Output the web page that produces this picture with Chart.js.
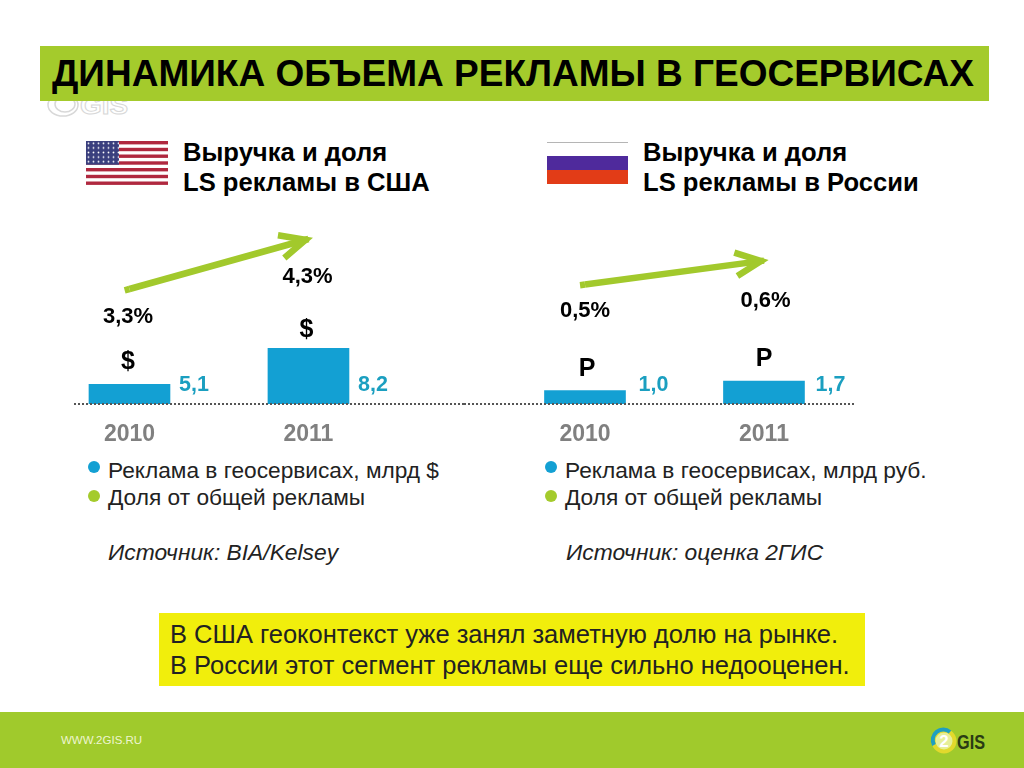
<!DOCTYPE html>
<html lang="ru">
<head>
<meta charset="utf-8">
<title>Динамика объема рекламы в геосервисах</title>
<script src="https://cdn.jsdelivr.net/npm/chart.js@4"></script>
<style>
html, body { margin: 0; padding: 0; background: #fff; }
body { width: 1024px; height: 768px; overflow: hidden; position: relative; font-family: "Liberation Sans", Arial, sans-serif; color: #000; }
.abs { position: absolute; white-space: nowrap; }
#titleBar { left: 40px; top: 46px; width: 949px; height: 55px; background: #a4cb2c; }
#title { left: 52px; top: 52px; font-size: 37px; line-height: 44px; font-weight: bold; }
.head { font-size: 25.6px; line-height: 30px; font-weight: bold; }
.legend { font-size: 22.7px; line-height: 24px; color: #222; }
.dot { width: 12px; height: 12px; border-radius: 50%; }
.source { font-size: 22.8px; line-height: 24px; font-style: italic; color: #222; }
#note { left: 159px; top: 613px; width: 692px; padding-left: 11px; padding-right: 3px; background: #f1ee0c; font-size: 25.5px; line-height: 31px; padding-top: 6px; height: 67px; color: #222; }
#footer { left: 0; top: 712px; width: 1024px; height: 56px; background: #a0ca2c; }
#site { left: 61px; top: 733px; font-size: 11.5px; line-height: 14px; color: #eef5d0; }
canvas { position: absolute; display: block; }
</style>
</head>
<body>
<svg class="abs" style="left:44px;top:94px" width="90" height="26">
  <g fill="none" stroke="#d8d8d8" stroke-width="1.5">
    <ellipse cx="19" cy="11" rx="15" ry="11"></ellipse>
    <ellipse cx="21" cy="10" rx="10" ry="8"></ellipse>
  </g>
  <text x="36" y="20" font-family="Liberation Sans" font-size="24" font-weight="bold" fill="#fff" stroke="#d8d8d8" stroke-width="1" textLength="48" lengthAdjust="spacingAndGlyphs">GIS</text>
</svg>
<div class="abs" id="titleBar"></div>
<div class="abs" id="title">ДИНАМИКА ОБЪЕМА РЕКЛАМЫ В ГЕОСЕРВИСАХ</div>

<svg class="abs" style="left:86px;top:141px" width="82" height="44">
  <rect width="82" height="44" fill="#fff"></rect>
  <g fill="#b0283f">
    <rect y="0" width="82" height="3.4"></rect>
    <rect y="6.8" width="82" height="3.4"></rect>
    <rect y="13.5" width="82" height="3.4"></rect>
    <rect y="20.3" width="82" height="3.4"></rect>
    <rect y="27" width="82" height="3.4"></rect>
    <rect y="33.8" width="82" height="3.4"></rect>
    <rect y="40.5" width="82" height="3.4"></rect>
  </g>
  <defs>
    <pattern id="stars" width="5" height="4.6" patternUnits="userSpaceOnUse">
      <circle cx="2.5" cy="2.3" r="0.9" fill="#fff"></circle>
    </pattern>
  </defs>
  <rect width="33" height="23.7" fill="#3a3f7e"></rect>
  <rect width="33" height="23.7" fill="url(#stars)"></rect>
</svg>
<div class="abs head" style="left:183px;top:137px">Выручка и доля<br>LS рекламы в США</div>

<svg class="abs" style="left:547px;top:141px" width="82" height="44">
  <rect y="1" width="81" height="1" fill="#b5b5b5"></rect>
  <rect y="15" width="81" height="14" fill="#4f2a9c"></rect>
  <rect y="29" width="81" height="14" fill="#e23c17"></rect>
</svg>
<div class="abs head" style="left:643px;top:137px">Выручка и доля<br>LS рекламы в России</div>

<canvas id="usaChart" width="390" height="230" style="left:74px;top:220px"></canvas>
<canvas id="ruChart" width="390" height="230" style="left:464px;top:220px"></canvas>

<div class="abs dot" style="left:88px;top:461px;background:#13a0d3"></div>
<div class="abs legend" style="left:108px;top:458px">Реклама в геосервисах, млрд $</div>
<div class="abs dot" style="left:88px;top:490px;background:#a4cb2c"></div>
<div class="abs legend" style="left:108px;top:485px">Доля от общей рекламы</div>
<div class="abs source" style="left:108px;top:540px">Источник: BIA/Kelsey</div>

<div class="abs dot" style="left:545px;top:461px;background:#13a0d3"></div>
<div class="abs legend" style="left:565px;top:458px">Реклама в геосервисах, млрд руб.</div>
<div class="abs dot" style="left:545px;top:490px;background:#a4cb2c"></div>
<div class="abs legend" style="left:565px;top:485px">Доля от общей рекламы</div>
<div class="abs source" style="left:566px;top:540px">Источник: оценка 2ГИС</div>

<div class="abs" id="note">В США геоконтекст уже занял заметную долю на рынке.<br>В России этот сегмент рекламы еще сильно недооценен.</div>

<div class="abs" id="footer"></div>
<div class="abs" id="site">WWW.2GIS.RU</div>
<svg class="abs" style="left:930px;top:726px" width="60" height="32">
  <circle cx="14" cy="15" r="10.5" fill="#e6ef9a" stroke="#e2d92c" stroke-width="4"></circle>
  <path d="M4 19 A10.5 10.5 0 0 1 20 6" fill="none" stroke="#1f9fc0" stroke-width="4"></path>
  <text x="14" y="21" text-anchor="middle" font-family="Liberation Sans" font-size="17" font-weight="bold" fill="#fff">2</text>
  <text x="27" y="23" font-family="Liberation Sans" font-size="21" font-weight="bold" fill="#2a3a14" textLength="28" lengthAdjust="spacingAndGlyphs">GIS</text>
</svg>

<script>
// данные
var years = [2010, 2011];
var usaRevenue = [5.1, 8.2];
var usaShare = [3.3, 4.3];
var ruRevenue = [1.0, 1.7];
var ruShare = [0.5, 0.6];

var BLUE = '#13a0d3';
var VALUE_BLUE = '#1b9fc0';
var GREEN = '#a2c92c';

function comma(v) {
    return v.toFixed(1).replace('.', ',');
}

// подписи, пунктир и наконечник стрелки
var slidePlugin = {
    id: 'slide',
    afterDatasetsDraw: function (chart, args, opts) {
        var ctx = chart.ctx;
        var area = chart.chartArea;
        var bars = chart.getDatasetMeta(0).data;
        var line = chart.getDatasetMeta(1).data;

        ctx.save();
        ctx.strokeStyle = '#555';
        ctx.lineWidth = 2;
        ctx.setLineDash([2, 2]);
        ctx.beginPath();
        ctx.moveTo(area.left, area.bottom);
        ctx.lineTo(area.right, area.bottom);
        ctx.stroke();
        ctx.setLineDash([]);

        // стрелка
        var p0 = line[0], p1 = line[1];
        var angle = Math.atan2(p1.y - p0.y, p1.x - p0.x);
        var tipX = p1.x - 3 * Math.cos(angle), tipY = p1.y - 3 * Math.sin(angle);
        var headLen = 28, headAngle = 25 * Math.PI / 180;
        ctx.strokeStyle = GREEN;
        ctx.lineWidth = 6.5;
        ctx.beginPath();
        ctx.moveTo(p0.x, p0.y);
        ctx.lineTo(p0.x - 5 * Math.cos(angle), p0.y - 5 * Math.sin(angle));
        ctx.stroke();
        ctx.beginPath();
        ctx.moveTo(tipX - headLen * Math.cos(angle - headAngle), tipY - headLen * Math.sin(angle - headAngle));
        ctx.lineTo(tipX, tipY);
        ctx.lineTo(tipX - headLen * Math.cos(angle + headAngle), tipY - headLen * Math.sin(angle + headAngle));
        ctx.stroke();

        // подписи
        ctx.textBaseline = 'middle';
        bars.forEach(function (bar, i) {
            ctx.textAlign = 'left';
            ctx.fillStyle = VALUE_BLUE;
            ctx.font = 'bold 21.5px "Liberation Sans"';
            ctx.fillText(comma(opts.revenue[i]), bar.x + bar.width / 2 + opts.valueGap[i], area.bottom - 19);

            ctx.textAlign = 'center';
            ctx.fillStyle = '#000';
            ctx.font = 'bold 25px "Liberation Sans"';
            ctx.fillText(opts.symbol, bar.x + opts.symbolShift[i], bar.y - opts.symbolGap[i]);

            ctx.font = 'bold 22px "Liberation Sans"';
            ctx.fillText(comma(opts.share[i]) + '%', bar.x + opts.shareShift[i], line[i].y + opts.shareGap[i]);
        });
        ctx.restore();
    }
};

function makeChart(id, revenue, share, cfg) {
    return new Chart(document.getElementById(id), {
        type: 'bar',
        data: {
            datasets: [{
                data: years.map(function (y, i) { return { x: y, y: revenue[i] }; }),
                backgroundColor: BLUE,
                barThickness: 81,
                yAxisID: 'y'
            }, {
                type: 'line',
                data: years.map(function (y, i) { return { x: y, y: share[i] }; }),
                borderColor: GREEN,
                borderWidth: 6.5,
                pointRadius: 0,
                yAxisID: 'y2'
            }]
        },
        options: {
            responsive: false,
            animation: false,
            devicePixelRatio: 1,
            layout: { padding: 0 },
            plugins: {
                legend: { display: false },
                tooltip: { enabled: false },
                slide: {
                    revenue: revenue, share: share, symbol: cfg.symbol,
                    shareGap: cfg.shareGap, shareShift: cfg.shareShift,
                    symbolGap: cfg.symbolGap, symbolShift: cfg.symbolShift,
                    valueGap: cfg.valueGap
                }
            },
            scales: {
                x: {
                    type: 'linear',
                    offset: false,
                    min: cfg.xMin,
                    max: cfg.xMax,
                    grid: { display: false },
                    border: { display: false },
                    afterBuildTicks: function (scale) {
                        scale.ticks = years.map(function (y) { return { value: y }; });
                    },
                    afterFit: function (scale) {
                        scale.height = 46;
                    },
                    ticks: {
                        autoSkip: false,
                        maxRotation: 0,
                        padding: 9,
                        color: '#808080',
                        font: { family: 'Liberation Sans', size: 23, weight: 'bold' },
                        callback: function (v) { return String(v); }
                    }
                },
                y: { display: false, min: cfg.yMin, max: cfg.yMax },
                y2: { display: false, min: cfg.shareMin, max: cfg.shareMax }
            }
        },
        plugins: [slidePlugin]
    });
}

makeChart('usaChart', usaRevenue, usaShare, {
    symbol: '$',
    shareGap: [28, 38], shareShift: [-1.5, -1],
    symbolGap: [22, 18], symbolShift: [-1.5, -2],
    valueGap: [9, 9],
    xMin: 2009.69, xMax: 2011.869,
    yMin: 3.4, yMax: 19.25,
    shareMin: 1, shareMax: 4.68
});

makeChart('ruChart', ruRevenue, ruShare, {
    symbol: 'Р',
    shareGap: [26, 40], shareShift: [0, 1.5],
    symbolGap: [21, 22], symbolShift: [2, 0],
    valueGap: [13, 11],
    xMin: 2009.324, xMax: 2011.503,
    yMin: 0, yMax: 13.63,
    shareMin: 0, shareMax: 0.77
});
</script>
</body>
</html>
